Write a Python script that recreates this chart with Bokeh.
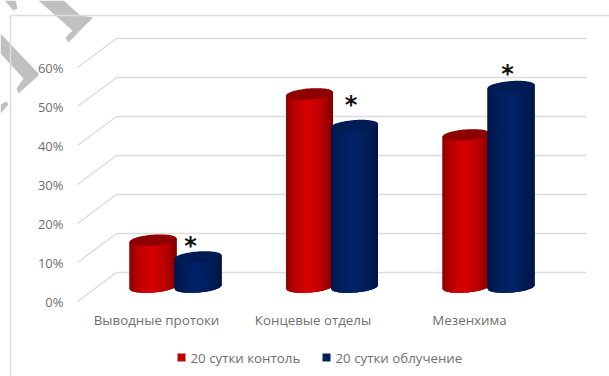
import math
from bokeh.embed import file_html
from bokeh.resources import INLINE
from bokeh.plotting import figure
from bokeh.models import FixedTicker, PrintfTickFormatter, Range1d
from bokeh.core.properties import value

categories = ["Выводные протоки", "Концевые отделы", "Мезенхима"]
control = [12, 49.5, 39]
irradiated = [7.7, 41.4, 51.4]
series_names = ["20 сутки контоль", "20 сутки облучение"]
series_colors = ["#c00000", "#002060"]
y_ticks = [0, 10, 20, 30, 40, 50, 60]
star_lift_px = [11, 21, 13]
star_shift_px = [15, 19, 19]

FONT = "Open Sans"
TEXT = "#6f6f6f"
GRID = "#dcdcdc"

# pixel scale of the data axes: one category step and one percent
PX_X = 156.5
PX_Y = 3.9
dx = lambda px: px / PX_X
dy = lambda px: px / PX_Y
# canvas pixel to data, for the decoration around the plot
X = lambda px: dx(px - 156)
Y = lambda py: dy(301 - py)

p = figure(width=609, height=376, output_backend="svg", toolbar_location=None,
           x_range=Range1d(X(0), X(609)), y_range=Range1d(Y(376), Y(0)),
           min_border=0, background_fill_color="white", border_fill_color="white",
           outline_line_color=None)
p.grid.visible = False

# both axes sit on the frame edge with their labels pulled inward
p.yaxis.ticker = FixedTicker(ticks=y_ticks)
p.yaxis.formatter = PrintfTickFormatter(format="%d%%")
p.yaxis.axis_line_color = None
p.yaxis.major_tick_line_color = None
p.yaxis.minor_tick_line_color = None
p.yaxis.major_tick_in = 0
p.yaxis.major_tick_out = 0
p.yaxis.major_label_standoff = -63
p.yaxis.major_label_text_font = FONT
p.yaxis.major_label_text_font_size = "13px"
p.yaxis.major_label_text_color = TEXT

p.xaxis.ticker = FixedTicker(ticks=list(range(len(categories))))
p.xaxis.major_label_overrides = {i: c for i, c in enumerate(categories)}
p.xaxis.axis_line_color = None
p.xaxis.major_tick_line_color = None
p.xaxis.minor_tick_line_color = None
p.xaxis.major_tick_in = 0
p.xaxis.major_tick_out = 0
p.xaxis.major_label_standoff = -66
p.xaxis.major_label_text_font = FONT
p.xaxis.major_label_text_font_size = "13.3px"
p.xaxis.major_label_text_color = TEXT

# washed-out grey strokes in the chart's upper left corner
for sx, sy in [
    ([38, 63, 80, 92.5, 68, 65, 72], [0, 0, 15, 17, 42, 37, 30]),
    ([0, 38, 38, 18, 16, 23, 0], [33, 73, 75, 93, 88, 78, 53]),
    ([4, 15, 17, 13], [0, 0, 8, 10]),
    ([0, 6, 8, 0], [104, 101, 104, 113]),
]:
    p.patch([X(v) for v in sx], [Y(v) for v in sy], fill_color="#c0c0c0", line_color=None)

# chart area border, running off the right and bottom edges
p.line([X(10), X(10), X(609)], [Y(376), Y(15), Y(15)], line_color=GRID, line_width=1.5)

# gridlines: diagonal along the side wall, then flat across the back wall
p.multi_line(xs=[[X(77), X(116), X(586)] for _ in y_ticks],
             ys=[[v, v + dy(29), v + dy(29)] for v in y_ticks],
             line_color=GRID, line_width=1.5)


def shade(t, mid, edge):
    # cylinder lighting: brightest slightly left of the middle
    k = 1 - min(1.0, abs(t - 0.47) / 0.53) ** 1.7
    return "#%02x%02x%02x" % tuple(round(e + (m - e) * k) for m, e in zip(mid, edge))


def cylinder(i, v, offset_px, mid, edge, top):
    a, b, tilt = 23.5, 5.5, 3.5 / 47
    cx = i + dx(19 + offset_px)
    base = dy(14.5)

    def low(d):
        return base + dy(tilt * d - b * math.sqrt(max(0.0, 1 - (d / a) ** 2)))

    n = 47
    edges = [-a + 2 * a * k / n for k in range(n + 1)]
    # solid silhouette first so strip seams never show the background
    p.patch([cx + dx(d) for d in edges] + [cx + dx(a), cx + dx(-a)],
            [low(d) for d in edges] + [v + base + dy(tilt * a), v + base - dy(tilt * a)],
            fill_color=shade(0.9, mid, edge), line_color=None)
    xs, ys, colors = [], [], []
    for k in range(n):
        d0 = edges[k]
        d1 = edges[min(n, k + 2)]
        xs.append([cx + dx(d0), cx + dx(d1), cx + dx(d1), cx + dx(d0)])
        ys.append([low(d0), low(d1), v + base + dy(tilt * d1), v + base + dy(tilt * d0)])
        colors.append(shade((k + 0.5) / n, mid, edge))
    p.patches(xs, ys, fill_color=colors, line_color=None)
    angles = [2 * math.pi * j / 72 for j in range(72)]
    p.patch([cx + dx(a * math.cos(t)) for t in angles],
            [v + base + dy(b * math.sin(t) + tilt * a * math.cos(t)) for t in angles],
            fill_color=top, line_color=None)


RED = ((212, 0, 0), (128, 0, 0), "#8e0000")
BLUE = ((1, 34, 102), (0, 20, 66), "#001c55")
for i, v in enumerate(control):
    cylinder(i, v, -22.5, *RED)
for i, v in enumerate(irradiated):
    cylinder(i, v, 22.5, *BLUE)

# significance marks above the second series
p.text(x=[i + dx(19 + s) for i, s in enumerate(star_shift_px)],
       y=[v + dy(14.5 + lift) for v, lift in zip(irradiated, star_lift_px)],
       text=["*"] * 3, text_font=value("DejaVu Sans"), text_font_style="bold",
       text_font_size="24px", text_color="#111111", text_align="center", text_baseline="middle")

# legend row: swatch and label for each series
swatch_px = [177, 322]
p.quad(left=[X(s) for s in swatch_px], right=[X(s + 8) for s in swatch_px],
       top=[Y(353)] * 2, bottom=[Y(361)] * 2, fill_color=series_colors, line_color=None)
p.text(x=[X(s + 13) for s in swatch_px], y=[Y(357)] * 2, text=series_names,
       text_font=value(FONT), text_font_size="13.3px", text_color=TEXT,
       text_align="left", text_baseline="middle")

open("out.html", "w").write(file_html(p, INLINE))
